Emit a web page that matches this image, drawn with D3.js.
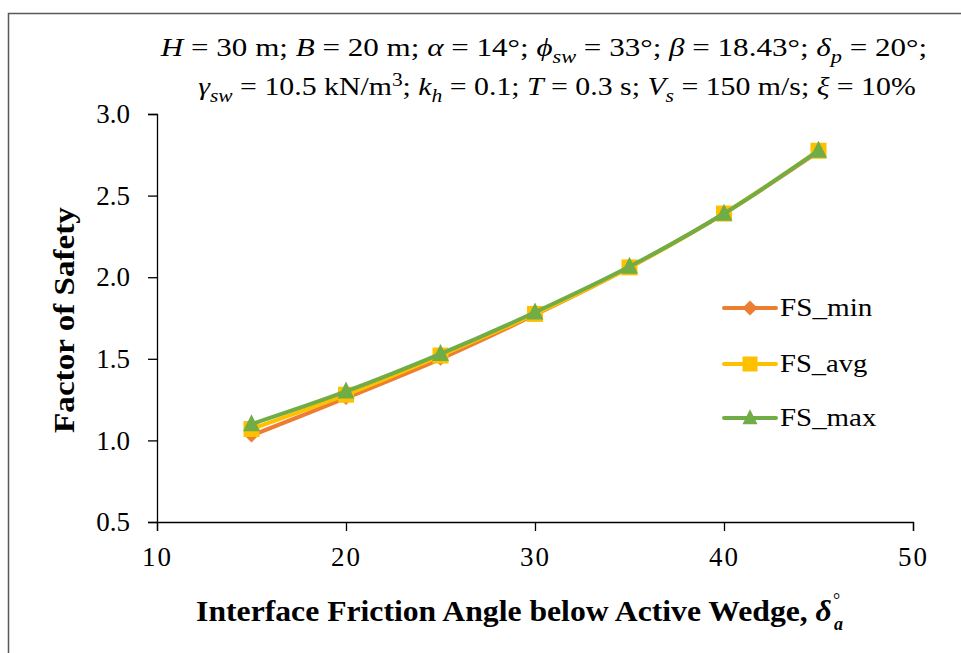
<!DOCTYPE html>
<html><head><meta charset="utf-8">
<script src="https://cdn.jsdelivr.net/npm/d3@7"></script>
<style>body{margin:0;background:#fff}svg{display:block}</style>
</head><body>
<script>
const xValues = [15, 20, 25, 30, 35, 40, 45];
const fsMin = [1.03, 1.26, 1.50, 1.77, 2.06, 2.39, 2.77];
const fsAvg = [1.07, 1.28, 1.52, 1.775, 2.06, 2.39, 2.775];
const fsMax = [1.10, 1.30, 1.53, 1.785, 2.065, 2.39, 2.775];
const seriesNames = ["FS_min", "FS_avg", "FS_max"];
const seriesColors = ["#ED7D31", "#FFC000", "#70AD47"];
const seriesShapes = ["diamond", "square", "triangle"];
const xTicks = [10, 20, 30, 40, 50];
const yTicks = [0.5, 1.0, 1.5, 2.0, 2.5, 3.0];

const W = 961, H = 653;
const svg = d3.select("body").append("svg").attr("width", W).attr("height", H);
const font = "'Liberation Serif','Times New Roman',serif";

// stretch a text horizontally around cx so its width equals target
function fitX(sel, cx, target) {
  const w = sel.node().getBBox().width;
  const s = target / w;
  sel.attr("transform", `translate(${cx},0) scale(${s},1) translate(${-cx},0)`);
  return s;
}

svg.append("rect").attr("x", 8.5).attr("y", 13.5).attr("width", 960).attr("height", 650)
  .attr("fill", "none").attr("stroke", "#595959").attr("stroke-width", 1.5);

const x = d3.scaleLinear().domain([10, 50]).range([157, 913]);
const y = d3.scaleLinear().domain([0.5, 3.0]).range([522, 114]);

const gx = svg.append("g").attr("transform", "translate(0,522)")
  .call(d3.axisBottom(x).tickValues(xTicks).tickSize(9).tickPadding(16).tickFormat(d3.format("d")));
const gy = svg.append("g").attr("transform", "translate(157,0)")
  .call(d3.axisLeft(y).tickValues(yTicks).tickSize(9).tickPadding(18).tickFormat(d3.format(".1f")));
[gx, gy].forEach(g => {
  g.select(".domain").attr("stroke", "#000").attr("stroke-width", 1.3);
  g.selectAll(".tick line").attr("stroke", "#000").attr("stroke-width", 1.3);
  g.selectAll(".tick text").attr("font-family", font).attr("font-size", 27).attr("fill", "#000");
});
gx.selectAll(".tick text").attr("letter-spacing", "2px");

const line = d3.line().x((d, i) => x(xValues[i])).y(d => y(d)).curve(d3.curveCatmullRom.alpha(0.5));
const data = [fsMin, fsAvg, fsMax];

function symbolPath(shape, s) {
  if (shape === "diamond") return `M0,${-s/2}L${s/2},0L0,${s/2}L${-s/2},0Z`;
  if (shape === "square") return `M${-s/2},${-s/2}H${s/2}V${s/2}H${-s/2}Z`;
  return `M0,${-s*0.58}L${s/2},${s*0.42}L${-s/2},${s*0.42}Z`;
}
const sizes = {diamond: 14, square: 16, triangle: 17};

data.forEach((vals, k) => {
  const g = svg.append("g");
  g.append("path").attr("d", line(vals)).attr("fill", "none")
    .attr("stroke", seriesColors[k]).attr("stroke-width", 4).attr("stroke-linejoin", "round").attr("stroke-linecap", "round");
  g.selectAll("path.m").data(vals).enter().append("path").attr("class", "m")
    .attr("transform", (d, i) => `translate(${x(xValues[i])},${y(d)})`)
    .attr("d", symbolPath(seriesShapes[k], sizes[seriesShapes[k]]))
    .attr("fill", seriesColors[k]);
});

// legend
const legY = [308, 364, 418];
const legW = [93, 88, 97];
seriesNames.forEach((n, k) => {
  const g = svg.append("g").attr("transform", `translate(0,${legY[k]})`);
  g.append("line").attr("x1", 724).attr("x2", 776).attr("y1", 0).attr("y2", 0)
    .attr("stroke", seriesColors[k]).attr("stroke-width", 4).attr("stroke-linecap", "round");
  g.append("path").attr("transform", "translate(750,0)")
    .attr("d", symbolPath(seriesShapes[k], 15)).attr("fill", seriesColors[k]);
  const t = g.append("text").attr("x", 780).attr("y", 8).attr("font-family", font).attr("font-size", 25).text(n);
  fitX(t, 780, legW[k]);
});

// axis titles
const yl = svg.append("g").attr("transform", "translate(74,320) rotate(-90)");
const ylt = yl.append("text").attr("x", 0).attr("y", 0).attr("text-anchor", "middle")
  .attr("font-family", font).attr("font-size", 30).attr("font-weight", "bold").text("Factor of Safety");
fitX(ylt, 0, 226);

const xlc = 514;
const xl = svg.append("text").attr("x", xlc).attr("y", 621).attr("text-anchor", "middle")
  .attr("font-family", font).attr("font-size", 29).attr("font-weight", "bold");
xl.append("tspan").text("Interface Friction Angle below Active Wedge, ");
xl.append("tspan").attr("font-style", "italic").text("δ");
const xlDeg = svg.append("text").attr("font-family", font).attr("font-size", 18).text("°");
const xlSub = svg.append("text").attr("font-family", font).attr("font-size", 18).attr("font-style", "italic").attr("font-weight", "bold").text("a");
{
  const bb = xl.node().getBBox();
  const s = fitX(xl, xlc, 636);
  const right = xlc + (bb.x + bb.width - xlc) * s;
  xlDeg.attr("x", right + 1).attr("y", 606);
  xlSub.attr("x", right + 2).attr("y", 630);
}

// title
function mathLine(parts, cx, cy, target) {
  const t = svg.append("text").attr("x", cx).attr("y", cy).attr("text-anchor", "middle")
    .attr("font-family", font).attr("font-size", 25);
  let off = 0;
  parts.forEach(p => {
    if (typeof p === "string") p = {t: p};
    const tgt = p.sub ? 7 : p.sup ? -9 : 0;
    const ts = t.append("tspan").text(p.t).attr("dy", tgt - off);
    off = tgt;
    if (p.i) ts.attr("font-style", "italic");
    if (p.sub || p.sup) ts.attr("font-size", 18);
  });
  if (off !== 0) t.append("tspan").attr("dy", -off).text("");
  fitX(t, cx, target);
}
mathLine([{t:"H",i:1}," = 30 m; ",{t:"B",i:1}," = 20 m; ",{t:"α",i:1}," = 14°; ",{t:"ϕ",i:1},{t:"sw",i:1,sub:1},
  " = 33°; ",{t:"β",i:1}," = 18.43°;  ",{t:"δ",i:1},{t:"p",i:1,sub:1}," = 20°;"], 544, 56, 768);
mathLine([{t:"γ",i:1},{t:"sw",i:1,sub:1}," = 10.5 kN/m",{t:"3",sup:1},"; ",{t:"k",i:1},{t:"h",i:1,sub:1},
  " = 0.1; ",{t:"T",i:1}," = 0.3 s; ",{t:"V",i:1},{t:"s",i:1,sub:1}," = 150 m/s; ",{t:"ξ",i:1}," = 10%"], 557, 95, 718);
</script>
</body></html>
